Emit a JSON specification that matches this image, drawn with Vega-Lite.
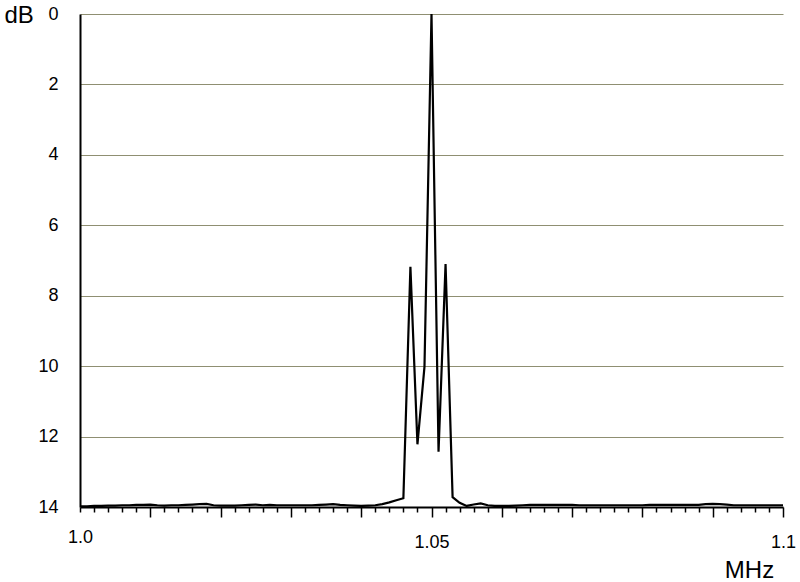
{
  "$schema": "https://vega.github.io/schema/vega-lite/v6.json",
  "width": 703,
  "height": 493,
  "autosize": "none",
  "padding": {"left": 80, "top": 14, "right": 17, "bottom": 75},
  "background": "#ffffff",
  "data": {
    "values": [
      {"f": 1.000, "db": 13.98}, {"f": 1.001, "db": 13.98}, {"f": 1.002, "db": 13.97}, {"f": 1.003, "db": 13.97},
      {"f": 1.004, "db": 13.96}, {"f": 1.005, "db": 13.96}, {"f": 1.006, "db": 13.95}, {"f": 1.007, "db": 13.95},
      {"f": 1.008, "db": 13.94}, {"f": 1.009, "db": 13.94}, {"f": 1.010, "db": 13.93}, {"f": 1.011, "db": 13.95},
      {"f": 1.012, "db": 13.96}, {"f": 1.013, "db": 13.95}, {"f": 1.014, "db": 13.95}, {"f": 1.015, "db": 13.94},
      {"f": 1.016, "db": 13.93}, {"f": 1.017, "db": 13.92}, {"f": 1.018, "db": 13.91}, {"f": 1.019, "db": 13.95},
      {"f": 1.020, "db": 13.96}, {"f": 1.021, "db": 13.96}, {"f": 1.022, "db": 13.96}, {"f": 1.023, "db": 13.95},
      {"f": 1.024, "db": 13.94}, {"f": 1.025, "db": 13.93}, {"f": 1.026, "db": 13.95}, {"f": 1.027, "db": 13.94},
      {"f": 1.028, "db": 13.95}, {"f": 1.029, "db": 13.95}, {"f": 1.030, "db": 13.95}, {"f": 1.031, "db": 13.95},
      {"f": 1.032, "db": 13.95}, {"f": 1.033, "db": 13.95}, {"f": 1.034, "db": 13.94}, {"f": 1.035, "db": 13.93},
      {"f": 1.036, "db": 13.92}, {"f": 1.037, "db": 13.94}, {"f": 1.038, "db": 13.95}, {"f": 1.039, "db": 13.96},
      {"f": 1.040, "db": 13.97}, {"f": 1.041, "db": 13.96}, {"f": 1.042, "db": 13.95}, {"f": 1.043, "db": 13.92},
      {"f": 1.044, "db": 13.87}, {"f": 1.045, "db": 13.81}, {"f": 1.046, "db": 13.75}, {"f": 1.047, "db": 7.18},
      {"f": 1.048, "db": 12.22}, {"f": 1.049, "db": 10.02}, {"f": 1.050, "db": 0}, {"f": 1.051, "db": 12.43},
      {"f": 1.052, "db": 7.1}, {"f": 1.053, "db": 13.72}, {"f": 1.054, "db": 13.88}, {"f": 1.055, "db": 13.97},
      {"f": 1.056, "db": 13.93}, {"f": 1.057, "db": 13.9}, {"f": 1.058, "db": 13.95}, {"f": 1.059, "db": 13.97},
      {"f": 1.060, "db": 13.97}, {"f": 1.061, "db": 13.97}, {"f": 1.062, "db": 13.96}, {"f": 1.063, "db": 13.95},
      {"f": 1.064, "db": 13.94}, {"f": 1.065, "db": 13.94}, {"f": 1.066, "db": 13.94}, {"f": 1.067, "db": 13.94},
      {"f": 1.068, "db": 13.94}, {"f": 1.069, "db": 13.94}, {"f": 1.070, "db": 13.94}, {"f": 1.071, "db": 13.95},
      {"f": 1.072, "db": 13.95}, {"f": 1.073, "db": 13.95}, {"f": 1.074, "db": 13.95}, {"f": 1.075, "db": 13.95},
      {"f": 1.076, "db": 13.95}, {"f": 1.077, "db": 13.95}, {"f": 1.078, "db": 13.95}, {"f": 1.079, "db": 13.95},
      {"f": 1.080, "db": 13.95}, {"f": 1.081, "db": 13.94}, {"f": 1.082, "db": 13.94}, {"f": 1.083, "db": 13.94},
      {"f": 1.084, "db": 13.94}, {"f": 1.085, "db": 13.94}, {"f": 1.086, "db": 13.94}, {"f": 1.087, "db": 13.94},
      {"f": 1.088, "db": 13.94}, {"f": 1.089, "db": 13.92}, {"f": 1.090, "db": 13.91}, {"f": 1.091, "db": 13.92},
      {"f": 1.092, "db": 13.93}, {"f": 1.093, "db": 13.95}, {"f": 1.094, "db": 13.95}, {"f": 1.095, "db": 13.95},
      {"f": 1.096, "db": 13.95}, {"f": 1.097, "db": 13.95}, {"f": 1.098, "db": 13.95}, {"f": 1.099, "db": 13.95},
      {"f": 1.100, "db": 13.95}
    ]
  },
  "mark": {"type": "line", "color": "#000000", "strokeWidth": 2.2, "clip": true},
  "encoding": {
    "x": {
      "field": "f",
      "type": "quantitative",
      "scale": {"domain": [1.0, 1.1], "nice": false, "zero": false},
      "axis": {
        "title": "MHz",
        "titleFont": "Liberation Sans",
        "titleFontSize": 24,
        "titleFontWeight": "normal",
        "titleColor": "#000000",
        "titleAnchor": null,
        "titleAlign": "center",
        "titleBaseline": "middle",
        "titleX": 669,
        "titleY": 63,
        "grid": false,
        "domainColor": "#000000",
        "domainWidth": 2,
        "tickColor": "#000000",
        "tickWidth": 1.5,
        "tickSize": {"condition": {"test": "datum.value > 1.0005 && abs(datum.value * 100 - round(datum.value * 100)) < 0.01", "value": 10}, "value": 5},
        "values": [1.000, 1.002, 1.004, 1.006, 1.008, 1.010, 1.012, 1.014, 1.016, 1.018,
                   1.020, 1.022, 1.024, 1.026, 1.028, 1.030, 1.032, 1.034, 1.036, 1.038,
                   1.040, 1.042, 1.044, 1.046, 1.048, 1.050, 1.052, 1.054, 1.056, 1.058,
                   1.060, 1.062, 1.064, 1.066, 1.068, 1.070, 1.072, 1.074, 1.076, 1.078,
                   1.080, 1.082, 1.084, 1.086, 1.088, 1.090, 1.092, 1.094, 1.096, 1.098, 1.100],
        "labelExpr": "abs(datum.value - 1) < 0.0001 ? '1.0' : abs(datum.value - 1.05) < 0.0001 ? '1.05' : abs(datum.value - 1.1) < 0.0001 ? '1.1' : ''",
        "labelFont": "Liberation Sans",
        "labelFontSize": 18,
        "labelColor": "#000000",
        "labelPadding": 16,
        "labelOverlap": false,
        "labelFlush": false,
        "labelBound": false
      }
    },
    "y": {
      "field": "db",
      "type": "quantitative",
      "scale": {"domain": [0, 14], "reverse": true, "nice": false},
      "axis": {
        "title": "dB",
        "titleFont": "Liberation Sans",
        "titleFontSize": 24,
        "titleFontWeight": "normal",
        "titleColor": "#000000",
        "titleAngle": 0,
        "titleAnchor": null,
        "titleAlign": "left",
        "titleBaseline": "middle",
        "titleX": -76,
        "titleY": 1,
        "values": [0, 2, 4, 6, 8, 10, 12, 14],
        "grid": true,
        "gridColor": "#8f8f72",
        "gridWidth": 1,
        "ticks": false,
        "tickSize": 0,
        "domainColor": "#000000",
        "domainWidth": 2,
        "labelFont": "Liberation Sans",
        "labelFontSize": 18,
        "labelColor": "#000000",
        "labelPadding": 22,
        "labelFlush": false,
        "labelOverlap": false
      }
    }
  },
  "config": {
    "view": {"stroke": null}
  }
}
